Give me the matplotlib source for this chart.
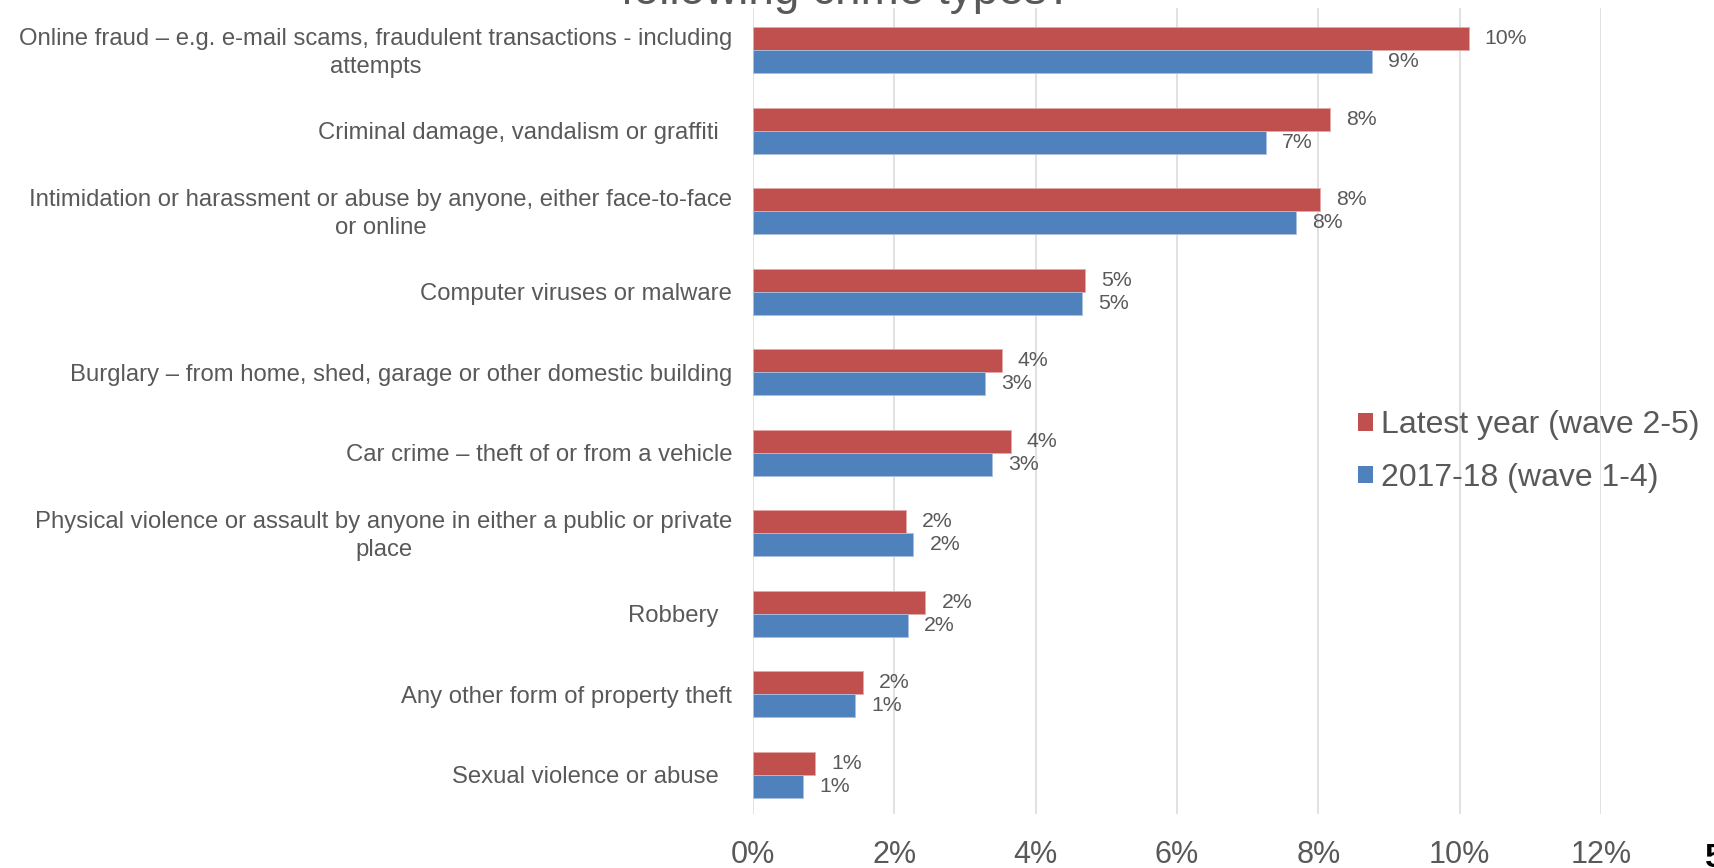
import matplotlib
matplotlib.use("Agg")
import matplotlib.pyplot as plt
from matplotlib.patches import Patch
from matplotlib.transforms import ScaledTranslation
import numpy as np

plt.rcParams['font.family'] = ['Liberation Sans', 'DejaVu Sans']

categories = [
    "Online fraud \u2013 e.g. e-mail scams, fraudulent transactions - including\nattempts",
    "Criminal damage, vandalism or graffiti  ",
    "Intimidation or harassment or abuse by anyone, either face-to-face\nor online",
    "Computer viruses or malware",
    "Burglary \u2013 from home, shed, garage or other domestic building",
    "Car crime \u2013 theft of or from a vehicle",
    "Physical violence or assault by anyone in either a public or private\nplace",
    "Robbery  ",
    "Any other form of property theft",
    "Sexual violence or abuse  ",
]
latest_year = [10.13, 8.16, 8.02, 4.70, 3.52, 3.65, 2.16, 2.44, 1.56, 0.88]
year_2017_18 = [8.76, 7.26, 7.68, 4.66, 3.28, 3.38, 2.27, 2.19, 1.45, 0.71]
series_names = ["Latest year (wave 2-5)", "2017-18 (wave 1-4)"]
xticks = [0, 2, 4, 6, 8, 10, 12]
title_text = "following crime types?"

RED = "#C0504D"
BLUE = "#4F81BD"
GRAY = "#595959"

W, H = 1714, 868
fig = plt.figure(figsize=(W / 100, H / 100), dpi=100)
ax_left, ax_right = 753 / W, 1601 / W
ax_top, ax_bot = 8 / H, 814 / H
ax = fig.add_axes([ax_left, 1 - ax_bot, ax_right - ax_left, ax_bot - ax_top])

y = np.arange(len(categories))
h = 0.286
ax.barh(y - h / 2, latest_year, height=h, color=RED, edgecolor="#E5A9A7", linewidth=0.6, zorder=3)
ax.barh(y + h / 2, year_2017_18, height=h, color=BLUE, edgecolor="#A9C0DE", linewidth=0.6, zorder=3)

for yi, v in zip(y, latest_year):
    ax.annotate(f"{v:.0f}%", (v, yi - h / 2), xytext=(16, 0), textcoords="offset pixels",
                ha="left", va="center", fontsize=15.3, color=GRAY)
for yi, v in zip(y, year_2017_18):
    ax.annotate(f"{v:.0f}%", (v, yi + h / 2), xytext=(16, 0), textcoords="offset pixels",
                ha="left", va="center", fontsize=15.3, color=GRAY)

ax.set_xlim(0, 12)
ax.set_ylim(9.49, -0.526)
ax.set_xticks(xticks)
ax.set_xticklabels([f"{t}%" for t in xticks], fontsize=22, color=GRAY)
ax.set_yticks(y)
ax.set_yticklabels(categories, fontsize=17.2, color=GRAY, multialignment="center", linespacing=1.33)
ax.tick_params(axis="x", length=0, pad=19)
ax.tick_params(axis="y", length=0, pad=15)
for lab in ax.get_yticklabels():
    if "\n" in lab.get_text():
        lab.set_transform(lab.get_transform() + ScaledTranslation(0, 2.5 / 100, fig.dpi_scale_trans))

for s in ax.spines.values():
    s.set_visible(False)
ax.grid(axis="x", color="#D9D9D9", linewidth=1.1, zorder=0)
ax.set_axisbelow(True)

handles = [Patch(facecolor=RED, edgecolor="none"), Patch(facecolor=BLUE, edgecolor="none")]
fig.legend(handles, series_names, loc="center left", bbox_to_anchor=(1357.6 / W, 1 - 451.5 / H),
           frameon=False, fontsize=23, handlelength=0.47, handleheight=0.47,
           handletextpad=0.27, labelspacing=0.7, borderpad=0, borderaxespad=0,
           labelcolor=GRAY)

fig.text(847 / W, 1 - 4.5 / H, title_text, ha="center", va="baseline", fontsize=33, color=GRAY)
fig.text(1705 / W, 1 - 843 / H, "5", ha="left", va="top", fontsize=24, fontweight="bold", color="black")

fig.savefig("out.png", dpi=100)
